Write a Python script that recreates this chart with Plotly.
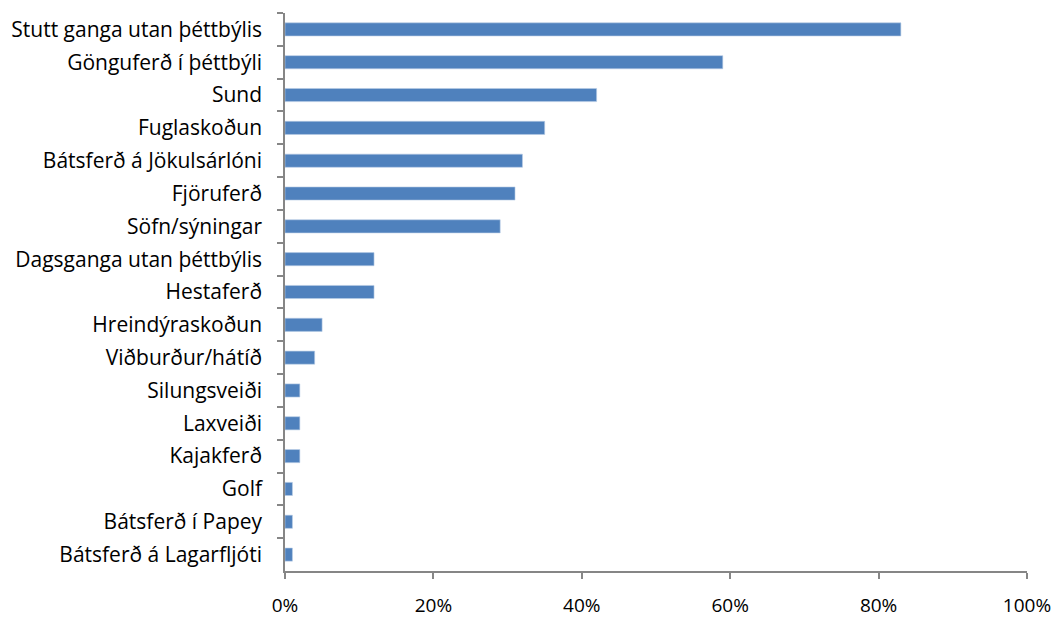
import plotly.graph_objects as go

categories = [
    "Stutt ganga utan þéttbýlis",
    "Gönguferð í þéttbýli",
    "Sund",
    "Fuglaskoðun",
    "Bátsferð á Jökulsárlóni",
    "Fjöruferð",
    "Söfn/sýningar",
    "Dagsganga utan þéttbýlis",
    "Hestaferð",
    "Hreindýraskoðun",
    "Viðburður/hátíð",
    "Silungsveiði",
    "Laxveiði",
    "Kajakferð",
    "Golf",
    "Bátsferð í Papey",
    "Bátsferð á Lagarfljóti",
]
values_pct = [83, 59, 42, 35, 32, 31, 29, 12, 12, 5, 4, 2, 2, 2, 1, 1, 1]
values = [v / 100 for v in values_pct]

x_tickvals = [0, 0.2, 0.4, 0.6, 0.8, 1.0]
x_ticktext = ["0%", "20%", "40%", "60%", "80%", "100%"]

axis_color = "#868686"
font_family = "Open Sans, Liberation Sans, sans-serif"

fig = go.Figure(
    go.Bar(
        x=values,
        y=categories,
        orientation="h",
        marker=dict(color="#4F81BD", line=dict(color="#B9CDE5", width=0.6)),
        hoverinfo="skip",
    )
)

fig.update_layout(
    width=1057,
    height=618,
    margin=dict(l=285, r=30, t=13, b=47, autoexpand=False),
    paper_bgcolor="white",
    plot_bgcolor="white",
    bargap=0.6,
    showlegend=False,
    font=dict(family=font_family, size=20, color="#000000"),
)

fig.update_xaxes(
    range=[0, 1],
    tickvals=x_tickvals,
    ticktext=x_ticktext,
    showgrid=False,
    zeroline=False,
    showline=True,
    linecolor=axis_color,
    linewidth=1.5,
    ticks="outside",
    ticklen=6,
    tickwidth=1.5,
    tickcolor=axis_color,
    ticklabelstandoff=10,
    tickfont=dict(size=19),
    automargin=False,
    fixedrange=True,
)

fig.update_yaxes(
    autorange="reversed",
    type="category",
    showgrid=False,
    showline=True,
    linecolor=axis_color,
    linewidth=1.5,
    ticks="outside",
    tickson="boundaries",
    ticklen=6,
    tickwidth=1.5,
    tickcolor=axis_color,
    ticklabelstandoff=17,
    tickfont=dict(size=21),
    automargin=False,
    fixedrange=True,
)

fig.write_html(
    "out.html",
    config={"displayModeBar": False},
    post_script="document.body.style.margin='0px';",
)
